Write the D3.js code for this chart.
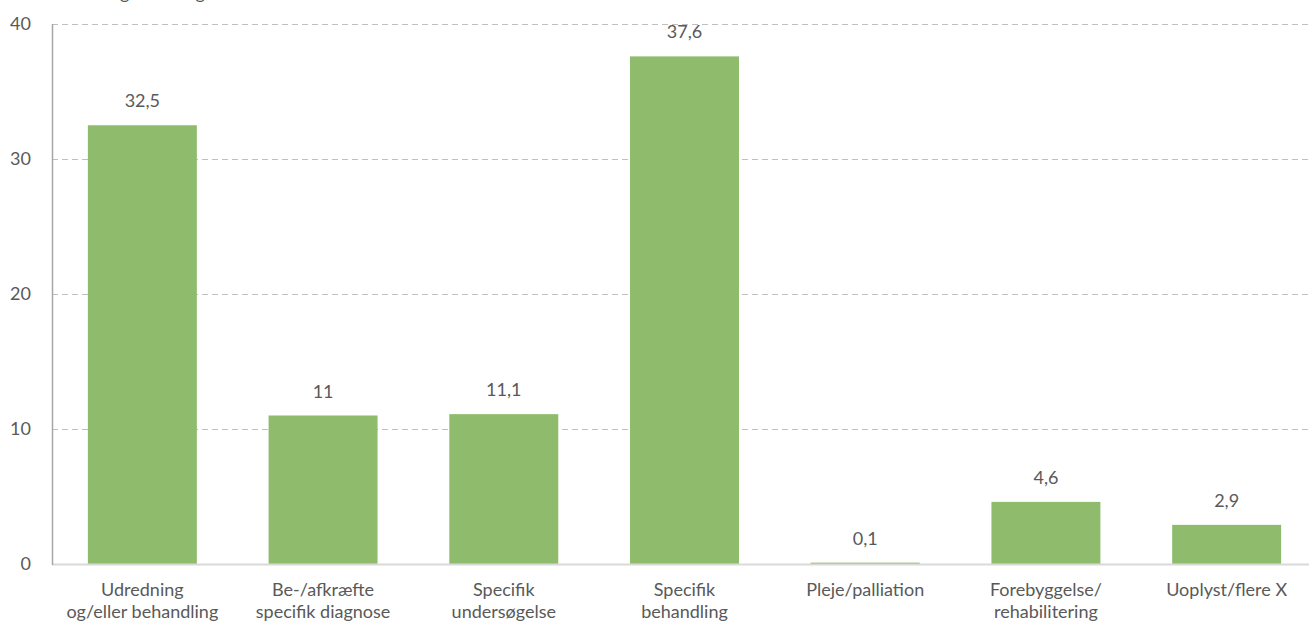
<!DOCTYPE html>
<html>
<head>
<meta charset="utf-8">
<script src="https://cdn.jsdelivr.net/npm/d3@7"></script>
<style>
  html, body { margin: 0; padding: 0; background: #fff; }
  svg { display: block; font-family: Lato, "Open Sans", sans-serif; }
</style>
</head>
<body>
<svg id="chart" width="1309" height="621"></svg>
<script>
const categories = [
  ["Udredning", "og/eller behandling"],
  ["Be-/afkræfte", "specifik diagnose"],
  ["Specifik", "undersøgelse"],
  ["Specifik", "behandling"],
  ["Pleje/palliation"],
  ["Forebyggelse/", "rehabilitering"],
  ["Uoplyst/flere X"]
];
const values = [32.5, 11, 11.1, 37.6, 0.1, 4.6, 2.9];
const valueLabels = ["32,5", "11", "11,1", "37,6", "0,1", "4,6", "2,9"];
const yTicks = [0, 10, 20, 30, 40];
const titleText = "Fordeling efter begrundelse";

(function () {
const svg = d3.select("#chart");
const mLeft = 52, mRight = 1317, mTop = 24, mBottom = 564;
const textColor = "#595959";
const fs = 18;

const x = d3.scaleBand().domain(d3.range(categories.length)).range([mLeft, mRight]).padding(0);
const y = d3.scaleLinear().domain([0, 40]).range([mBottom, mTop]);
const barW = x.bandwidth() * 0.603;

// title (cut off at top, as in the reference)
svg.append("text").attr("x", 56).attr("y", -1)
  .attr("font-size", fs).attr("fill", textColor).text(titleText);

// gridlines
svg.append("g").selectAll("line").data(yTicks.filter(d => d > 0)).join("line")
  .attr("x1", mLeft).attr("x2", 1309)
  .attr("y1", d => y(d) + 0.5).attr("y2", d => y(d) + 0.5)
  .attr("stroke", "#bfbfbf").attr("stroke-width", 1)
  .attr("stroke-dasharray", "6,4");

// bars
svg.append("g").selectAll("rect").data(values).join("rect")
  .attr("x", (d, i) => x(i) + (x.bandwidth() - barW) / 2)
  .attr("width", barW)
  .attr("y", d => y(d))
  .attr("height", d => y(0) - y(d))
  .attr("fill", "#8fbc6c");

// baseline
svg.append("line").attr("x1", mLeft).attr("x2", 1309)
  .attr("y1", y(0) + 0.5).attr("y2", y(0) + 0.5)
  .attr("stroke", "#d9d9d9").attr("stroke-width", 2);

// left axis line
svg.append("line").attr("x1", mLeft + 0.5).attr("x2", mLeft + 0.5)
  .attr("y1", mTop).attr("y2", mBottom + 1)
  .attr("stroke", "#a6a6a6").attr("stroke-width", 1.5);

// y tick labels
svg.append("g").selectAll("text").data(yTicks).join("text")
  .attr("x", 31).attr("y", d => y(d) + 6)
  .attr("text-anchor", "end").attr("font-size", fs).attr("fill", textColor)
  .text(d => d);

// value labels
svg.append("g").selectAll("text").data(values).join("text")
  .attr("x", (d, i) => x(i) + x.bandwidth() / 2)
  .attr("y", d => y(d) - 18)
  .attr("text-anchor", "middle").attr("font-size", fs).attr("fill", textColor)
  .text((d, i) => valueLabels[i]);

// category labels
const cat = svg.append("g").selectAll("text").data(categories).join("text")
  .attr("x", (d, i) => x(i) + x.bandwidth() / 2)
  .attr("y", 596)
  .attr("text-anchor", "middle").attr("font-size", fs).attr("fill", textColor);
cat.selectAll("tspan").data(d => d).join("tspan")
  .attr("x", function() { return d3.select(this.parentNode).attr("x"); })
  .attr("dy", (d, i) => i === 0 ? 0 : 22)
  .text(d => d);
})();
</script>
</body>
</html>
